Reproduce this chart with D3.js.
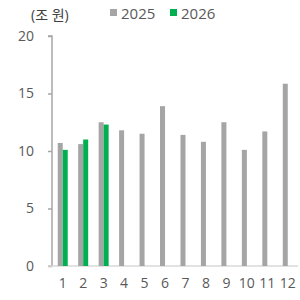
<!DOCTYPE html>
<html>
<head>
<meta charset="utf-8">
<script src="https://cdn.jsdelivr.net/npm/d3@7"></script>
<style>
  body { margin: 0; background: #fff; }
  text { font-family: "Open Sans", "Noto Sans CJK KR", sans-serif; }
</style>
</head>
<body>
<div id="chart"></div>
<script>
// monthly values (조 원)
var months = ["1", "2", "3", "4", "5", "6", "7", "8", "9", "10", "11", "12"];
var values2025 = [10.7, 10.6, 12.5, 11.8, 11.5, 13.9, 11.4, 10.8, 12.5, 10.1, 11.7, 15.85];
var values2026 = [10.1, 11.0, 12.3];
var yTicks = [0, 5, 10, 15, 20];
var seriesNames = ["2025", "2026"];
var colors = ["#a5a5a5", "#00b050"];

var svg = d3.select("#chart").append("svg")
  .attr("width", 300)
  .attr("height", 300);

var x = d3.scaleBand()
  .domain(months)
  .range([52.5, 298])
  .padding(0);

var y = d3.scaleLinear()
  .domain([0, 20])
  .range([266, 36]);

var barW = 5;

// y axis
var yAxis = svg.append("g")
  .attr("transform", "translate(52,0)")
  .call(d3.axisLeft(y).tickValues(yTicks).tickSize(4).tickPadding(14));
yAxis.select(".domain").attr("stroke", "#a6a6a6").attr("stroke-width", 1.5)
  .attr("d", "M-4,266H0V36H-4");
yAxis.selectAll(".tick line").attr("stroke", "#a6a6a6").attr("stroke-width", 1.5);
yAxis.selectAll(".tick text").attr("fill", "#595959").style("font-size", "14px");

// x axis
var xAxis = svg.append("g")
  .attr("transform", "translate(0,266)")
  .call(d3.axisBottom(x).tickSize(0).tickPadding(12));
xAxis.select(".domain").attr("stroke", "#d9d9d9").attr("stroke-width", 1.5)
  .attr("d", "M48,0H298");
xAxis.selectAll(".tick text").attr("fill", "#595959").style("font-size", "14px");

// bars
svg.append("g").selectAll("rect")
  .data(values2025)
  .enter().append("rect")
  .attr("x", (d, i) => x(months[i]) + x.bandwidth() / 2 - barW)
  .attr("y", d => y(d))
  .attr("width", barW)
  .attr("height", d => y(0) - y(d))
  .attr("fill", colors[0]);

svg.append("g").selectAll("rect")
  .data(values2026)
  .enter().append("rect")
  .attr("x", (d, i) => x(months[i]) + x.bandwidth() / 2)
  .attr("y", d => y(d))
  .attr("width", barW)
  .attr("height", d => y(0) - y(d))
  .attr("fill", colors[1]);

// unit label
svg.append("text")
  .attr("x", 31)
  .attr("y", 20)
  .attr("fill", "#404040")
  .style("font-size", "14px")
  .text("(조 원)");

// legend
var legend = svg.append("g");
seriesNames.forEach(function (name, i) {
  var lx = 110 + i * 60;
  legend.append("rect")
    .attr("x", lx).attr("y", 9)
    .attr("width", 7).attr("height", 7)
    .attr("fill", colors[i]);
  legend.append("text")
    .attr("x", lx + 11).attr("y", 19)
    .attr("fill", "#595959")
    .style("font-size", "15px")
    .text(name);
});
</script>
</body>
</html>
